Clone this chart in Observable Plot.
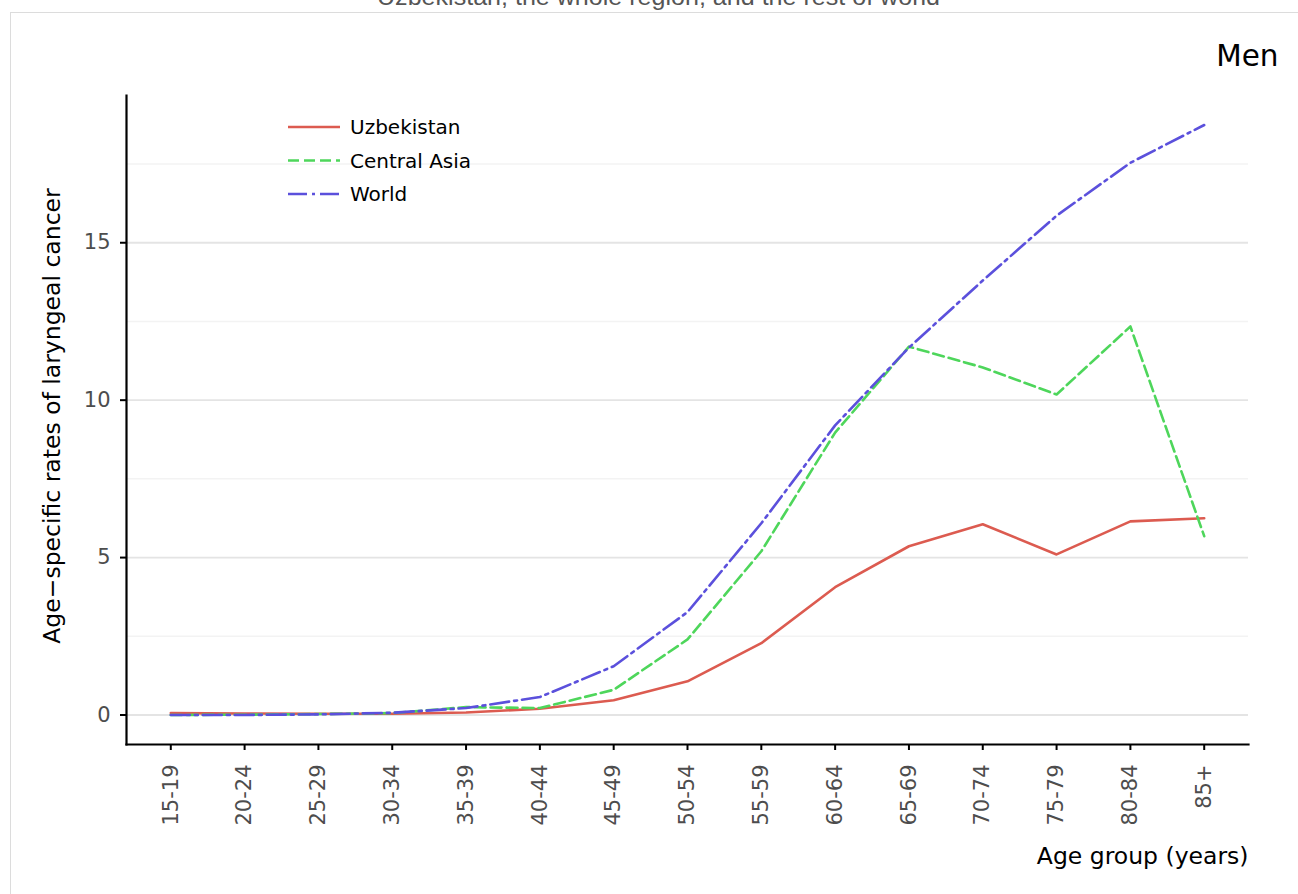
<!DOCTYPE html>
<html>
<head>
<meta charset="utf-8">
<script src="https://cdn.jsdelivr.net/npm/d3@7"></script>
<script src="https://cdn.jsdelivr.net/npm/@observablehq/plot@0.6"></script>
<style>
  html, body { margin: 0; padding: 0; background: #fff; overflow: hidden; }
  #page { position: relative; width: 1298px; height: 894px; overflow: hidden; font-family: "DejaVu Sans", sans-serif; }
  #panel { position: absolute; left: 10px; top: 12px; width: 1400px; height: 1000px; border-left: 1px solid #dcdcdc; border-top: 1px solid #dcdcdc; }
  #chart { position: absolute; left: 0; top: 0; }
  #cap { position: absolute; left: 0; top: 0; }
</style>
</head>
<body>
<div id="page">
  <svg id="cap" width="1298" height="12" font-family="Liberation Sans" font-size="23" fill="#555">
    <text x="377" y="4.5" text-anchor="start" textLength="563" lengthAdjust="spacingAndGlyphs">Uzbekistan, the whole region, and the rest of world</text>
  </svg>
  <div id="panel"></div>
  <div id="chart"></div>
</div>
<script>
const ages = ["15-19","20-24","25-29","30-34","35-39","40-44","45-49","50-54","55-59","60-64","65-69","70-74","75-79","80-84","85+"];
const uzbekistan = [0.06,0.05,0.04,0.04,0.08,0.20,0.47,1.07,2.28,4.06,5.36,6.06,5.10,6.15,6.25];
const centralAsia = [0.00,0.01,0.03,0.06,0.25,0.22,0.80,2.40,5.20,8.97,11.70,11.04,10.18,12.34,5.68];
const world = [0.00,0.00,0.02,0.07,0.22,0.57,1.55,3.27,6.09,9.20,11.67,13.80,15.86,17.54,18.74];
const seriesNames = ["Uzbekistan","Central Asia","World"];
const seriesColors = ["#DC5B50","#4ED65B","#5B50DC"];
const seriesDash = [null,"11,5","19,5,3,5"];
const yTicks = [0,5,10,15];
const yMinorTicks = [2.5,7.5,12.5,17.5];
const title = "Men";
const xLabel = "Age group (years)";
const yLabel = "Age\u2212specific rates of laryngeal cancer";

const seriesValues = [uzbekistan, centralAsia, world];
const rows = [];
seriesNames.forEach((s, i) => ages.forEach((a, j) => rows.push({series: s, age: a, value: seriesValues[i][j]})));

const lo = d3.min(rows, d => d.value), hi = d3.max(rows, d => d.value);
const pad = (hi - lo) * 0.05;
const yDomain = [lo - pad, hi + pad];

const chart = Plot.plot({
  width: 1298,
  height: 894,
  marginLeft: 126,
  marginRight: 50,
  marginTop: 95,
  marginBottom: 150,
  style: {fontFamily: "DejaVu Sans", background: "transparent"},
  x: {type: "point", domain: ages, padding: 0.6, round: false},
  y: {domain: yDomain},
  marks: [
    Plot.ruleY(yMinorTicks, {stroke: "#f3f3f3", strokeWidth: 1.5}),
    Plot.ruleY(yTicks, {stroke: "#e4e4e4", strokeWidth: 1.8}),
    ...seriesNames.map((s, i) => Plot.line(rows.filter(d => d.series === s), {
      x: "age", y: "value", stroke: seriesColors[i], strokeWidth: 2.6,
      strokeDasharray: seriesDash[i] ?? undefined
    })),
    Plot.axisY(yTicks, {tickSize: 6, tickPadding: 10, fontSize: 21, stroke: "black", fill: "#4d4d4d", strokeWidth: 2, label: null}),
    Plot.axisX({tickSize: 6, tickPadding: 14, tickRotate: -90, fontSize: 21, stroke: "black", fill: "#4d4d4d", strokeWidth: 2, label: null}),
    Plot.frame({anchor: "left", stroke: "black", strokeWidth: 2.2}),
    Plot.frame({anchor: "bottom", stroke: "black", strokeWidth: 2.2}),
    Plot.text([yLabel], {frameAnchor: "left", textAnchor: "middle", lineAnchor: "middle", dx: -74, dy: -4, rotate: -90, fontSize: 23.5, fill: "black"}),
    Plot.text([xLabel], {frameAnchor: "bottom-right", textAnchor: "end", lineAnchor: "middle", dy: 112, fontSize: 23.5, fill: "black"}),
    Plot.text([title], {frameAnchor: "top-right", textAnchor: "end", lineAnchor: "middle", dx: 30, dy: -39, fontSize: 29.5, fill: "black"})
  ]
});
document.getElementById("chart").appendChild(chart);

// legend drawn inside the plot area
const svg = d3.select(chart);
const lg = svg.append("g").attr("font-family", "DejaVu Sans").attr("font-size", 20).attr("text-anchor", "start");
seriesNames.forEach((s, i) => {
  const y = 127 + i * 33.5;
  lg.append("line").attr("x1", 288).attr("x2", 340).attr("y1", y).attr("y2", y)
    .attr("stroke", seriesColors[i]).attr("stroke-width", 2.6)
    .attr("stroke-dasharray", seriesDash[i]);
  lg.append("text").attr("x", 350).attr("y", y).attr("dy", "0.35em").attr("fill", "black").text(s);
});
</script>
</body>
</html>
